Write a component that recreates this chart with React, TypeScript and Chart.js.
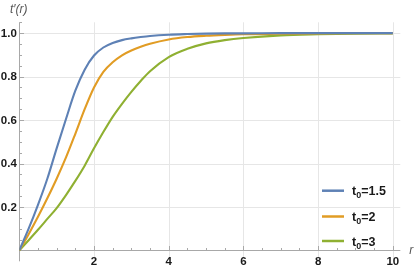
import React, { useEffect, useRef } from 'react';
import { Chart, registerables } from 'chart.js';

Chart.register(...registerables);

// ---- data ----
const rValues = [0, 0.25, 0.5, 0.75, 1, 1.25, 1.5, 1.75, 2, 2.25, 2.5, 2.75, 3, 3.25, 3.5, 4, 4.5, 5, 5.5, 6, 7, 8, 9, 10];
const seriesT15 = [0, 0.1, 0.21, 0.33, 0.47, 0.605, 0.735, 0.832, 0.897, 0.934, 0.955, 0.968, 0.976, 0.982, 0.987, 0.993, 0.996, 0.998, 0.999, 0.999, 1, 1, 1, 1];
const seriesT2 = [0, 0.075, 0.155, 0.24, 0.33, 0.428, 0.537, 0.65, 0.75, 0.822, 0.866, 0.898, 0.92, 0.937, 0.951, 0.971, 0.982, 0.988, 0.992, 0.995, 0.997, 0.999, 1, 1];
const seriesT3 = [0, 0.047, 0.095, 0.145, 0.195, 0.255, 0.32, 0.39, 0.47, 0.545, 0.615, 0.675, 0.73, 0.78, 0.825, 0.89, 0.928, 0.953, 0.968, 0.978, 0.99, 0.995, 0.998, 0.999];
const seriesParams = ['1.5', '2', '3'];
const seriesColors = ['#5E81B5', '#E19C24', '#8FB032'];

const xTickValues = [2, 4, 6, 8, 10];
const xTickLabels = ['2', '4', '6', '8', '10'];
const yTickValues = [0.2, 0.4, 0.6, 0.8, 1.0];
const yTickLabels = ['0.2', '0.4', '0.6', '0.8', '1.0'];
const xMinorStep = 0.5;
const yMinorStep = 0.05;
const yAxisTitle = 't\u2032(r)';
const xAxisTitle = 'r';

const FONT = '"Liberation Sans", Arial, sans-serif';

const framePlugin = {
  id: 'frame',
  beforeDatasetsDraw(chart: any) {
    const { ctx, chartArea: a, scales } = chart;
    const x = scales.x;
    const y = scales.y;
    const line = (x1: number, y1: number, x2: number, y2: number) => {
      ctx.beginPath();
      ctx.moveTo(x1, y1);
      ctx.lineTo(x2, y2);
      ctx.stroke();
    };
    ctx.save();
    // grid
    ctx.strokeStyle = '#e6e6e6';
    ctx.lineWidth = 1;
    for (const v of xTickValues) {
      const px = Math.round(x.getPixelForValue(v)) + 0.5;
      line(px, a.top, px, a.bottom);
    }
    for (const v of yTickValues) {
      const py = Math.round(y.getPixelForValue(v)) + 0.5;
      line(a.left, py, a.right, py);
    }
    // axes
    const x0 = Math.round(x.getPixelForValue(0)) + 0.5;
    const y0 = Math.round(y.getPixelForValue(0)) + 0.5;
    ctx.strokeStyle = '#a8a8a8';
    line(a.left, y0, a.right, y0);
    line(x0, a.top, x0, a.bottom);
    // ticks on x axis (pointing up into the plot)
    for (let i = 1; i * xMinorStep <= x.max; i++) {
      const v = i * xMinorStep;
      const major = xTickValues.some((t) => Math.abs(t - v) < 1e-9);
      const px = Math.round(x.getPixelForValue(v)) + 0.5;
      line(px, y0, px, y0 - (major ? 4.5 : 2.5));
    }
    // ticks on y axis (pointing right into the plot)
    for (let i = 1; i * yMinorStep <= y.max + 1e-9; i++) {
      const v = i * yMinorStep;
      const major = yTickValues.some((t) => Math.abs(t - v) < 1e-9);
      const py = Math.round(y.getPixelForValue(v)) + 0.5;
      line(x0, py, x0 + (major ? 4.5 : 2.5), py);
    }
    ctx.restore();
  },
  afterDatasetsDraw(chart: any) {
    const { ctx, chartArea: a, scales } = chart;
    const x = scales.x;
    const y = scales.y;
    const x0 = x.getPixelForValue(0);
    const y0 = y.getPixelForValue(0);
    ctx.save();
    // tick labels
    ctx.fillStyle = '#1a1a1a';
    ctx.font = `bold 11.5px ${FONT}`;
    ctx.textAlign = 'center';
    ctx.textBaseline = 'middle';
    xTickValues.forEach((v, i) => {
      ctx.fillText(xTickLabels[i], x.getPixelForValue(v), y0 + 11);
    });
    ctx.textAlign = 'right';
    yTickValues.forEach((v, i) => {
      ctx.fillText(yTickLabels[i], x0 - 2.5, y.getPixelForValue(v) + 0.5);
    });
    // axis titles
    ctx.fillStyle = '#555555';
    ctx.font = `italic 12px ${FONT}`;
    ctx.textAlign = 'left';
    ctx.textBaseline = 'alphabetic';
    ctx.fillText(yAxisTitle, 10, 13);
    ctx.textBaseline = 'middle';
    ctx.fillText(xAxisTitle, a.right + 9, y0);
    // legend
    const lx = 322;
    const ys = [190.7, 216.5, 241];
    chart.data.datasets.forEach((ds: any, i: number) => {
      const ly = ys[i];
      ctx.strokeStyle = ds.borderColor;
      ctx.lineWidth = 2.5;
      ctx.beginPath();
      ctx.moveTo(lx, ly);
      ctx.lineTo(lx + 22, ly);
      ctx.stroke();
      ctx.fillStyle = '#1a1a1a';
      ctx.textAlign = 'left';
      ctx.textBaseline = 'alphabetic';
      let tx = lx + 30;
      const base = ly + 4.5;
      ctx.font = `bold 12.5px ${FONT}`;
      ctx.fillText('t', tx, base);
      tx += ctx.measureText('t').width;
      ctx.font = `bold 9px ${FONT}`;
      ctx.fillText('0', tx, base + 3);
      tx += ctx.measureText('0').width;
      ctx.font = `bold 12.5px ${FONT}`;
      ctx.fillText('=' + seriesParams[i], tx, base);
    });
    ctx.restore();
  },
};

export default function App() {
  const canvasRef = useRef<HTMLCanvasElement | null>(null);

  useEffect(() => {
    const canvas = canvasRef.current;
    if (!canvas) return;
    const allSeries = [seriesT15, seriesT2, seriesT3];
    const chart = new Chart(canvas, {
      type: 'line',
      data: {
        labels: rValues,
        datasets: allSeries.map((s, i) => ({
          label: 't0=' + seriesParams[i],
          data: rValues.map((r, j) => ({ x: r, y: s[j] })),
          borderColor: seriesColors[i],
          backgroundColor: seriesColors[i],
          borderWidth: 2.1,
          pointRadius: 0,
          fill: false,
          cubicInterpolationMode: 'monotone' as const,
        })),
      },
      options: {
        responsive: false,
        animation: false,
        devicePixelRatio: 1,
        layout: { padding: { left: 19.3, right: 14.7, top: 22.3, bottom: 7.7 } },
        plugins: { legend: { display: false }, tooltip: { enabled: false } },
        scales: {
          x: {
            type: 'linear',
            min: 0,
            max: 10.2,
            display: false,
          },
          y: {
            type: 'linear',
            min: -0.05,
            max: 1.05,
            display: false,
          },
        },
      },
      plugins: [framePlugin],
    });
    return () => chart.destroy();
  }, []);

  return (
    <div style={{ position: 'fixed', left: 0, top: 0, width: 415, height: 269, background: '#fff' }}>
      <canvas ref={canvasRef} width={415} height={269} style={{ width: 415, height: 269, display: 'block' }} />
    </div>
  );
}
